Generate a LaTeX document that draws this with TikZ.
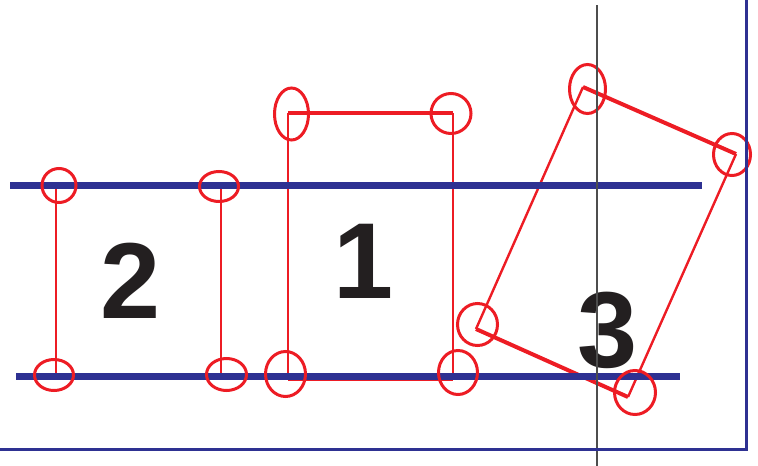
\documentclass[tikz,border=0pt]{standalone}
\usepackage{fontspec}
\setsansfont{Liberation Sans}
\usetikzlibrary{shapes.geometric}
\definecolor{cblue}{HTML}{2E3192}
\definecolor{cred}{HTML}{ED1C24}
\definecolor{cgrey}{HTML}{4D4D4D}
\definecolor{cblack}{HTML}{231F20}
\tikzset{
  rail/.style={draw=cblue, line width=7pt},
  frame/.style={draw=cblue, line width=3pt},
  axisline/.style={draw=cgrey, line width=1.2pt},
  side/.style={draw=cred, line width=2.4pt},
  bar/.style={draw=cred, line width=4pt},
  pin/.style 2 args={ellipse, draw=cred, line width=3pt, inner sep=0pt, minimum width=#1, minimum height=#2},
  digit/.style={font=\sffamily\bfseries\fontsize{108}{108}\selectfont, text=cblack, inner sep=0pt},
}
\begin{document}
\begin{tikzpicture}[x=1pt, y=-1pt]
  \useasboundingbox (0,0) rectangle (758,466);
  % corners of the three boxes
  \coordinate (b2tl) at (56,185);  \coordinate (b2bl) at (56,376);
  \coordinate (b2tr) at (221,185); \coordinate (b2br) at (221,376);
  \coordinate (b1tl) at (288,113); \coordinate (b1tr) at (453,113);
  \coordinate (b1bl) at (288,379); \coordinate (b1br) at (453,379);
  \coordinate (b3a) at (583,87);   \coordinate (b3b) at (736,154);
  \coordinate (b3c) at (628,397);  \coordinate (b3d) at (476,329);
  % box 2
  \draw[side] (b2tl) -- (b2bl);
  \draw[side] (b2tr) -- (b2br);
  % box 1
  \draw[side] (b1tl) -- (b1bl);
  \draw[side] (b1tr) -- (b1br);
  \draw[bar] (b1tl) -- (b1tr);
  \draw[bar] (b1bl) -- (b1br);
  % box 3 (tilted)
  \draw[side] (b3a) -- (b3d);
  \draw[side] (b3b) -- (b3c);
  \draw[bar] (b3a) -- (b3b);
  \draw[bar] (b3d) -- (b3c);
  % rails
  \coordinate (r1a) at (10,185.5);  \coordinate (r1b) at (702,185.5);
  \coordinate (r2a) at (16,376.5);  \coordinate (r2b) at (680,376.5);
  \draw[rail] (r1a) -- (r1b);
  \draw[rail] (r2a) -- (r2b);
  % contact marks
  \node[pin={34pt}{34pt}] (p1) at (59,185.5) {};
  \node[pin={39pt}{30pt}] (p2) at (219,186.5) {};
  \node[pin={39pt}{31pt}] (p3) at (54,375) {};
  \node[pin={40pt}{32pt}] (p4) at (226.5,374.5) {};
  \node[pin={34pt}{52pt}] (p5) at (291.5,114) {};
  \node[pin={40pt}{40pt}] (p6) at (451,113.5) {};
  \node[pin={40pt}{45pt}] (p7) at (285.5,374) {};
  \node[pin={39pt}{44pt}] (p8) at (458,372.5) {};
  \node[pin={36pt}{49pt}] (p9) at (587.5,89) {};
  \node[pin={37pt}{42pt}] (p10) at (732,154.5) {};
  \node[pin={40pt}{42pt}] (p11) at (477.5,324.5) {};
  \node[pin={41pt}{44pt}] (p12) at (635,392.5) {};
  % numbers
  \node[digit] (n2) at (130.5,281) {2};
  \node[digit] (n1) at (364,261.5) {1};
  \node[digit] (n3) at (608,330) {3};
  % vertical reference line and frame
  \coordinate (va) at (597,5); \coordinate (vb) at (597,466);
  \draw[axisline] (va) -- (vb);
  \coordinate (f1) at (746,0); \coordinate (f2) at (746,449); \coordinate (f3) at (0,449);
  \draw[frame] (f1) -- (f2) -- (f3);
\end{tikzpicture}
\end{document}
